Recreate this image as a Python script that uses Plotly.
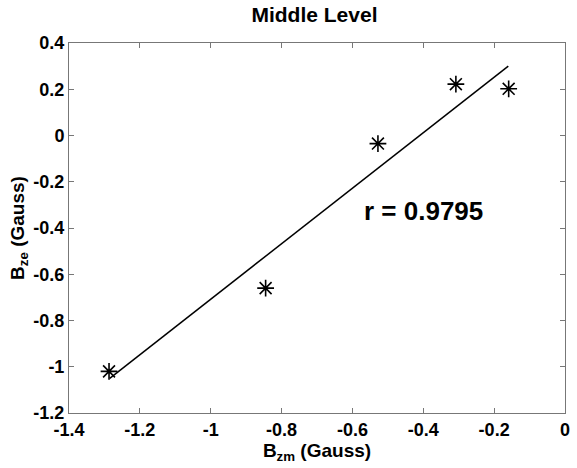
import plotly.graph_objects as go

# Data
bzm = [-1.287, -0.845, -0.528, -0.308, -0.159]
bze = [-1.02, -0.66, -0.035, 0.222, 0.202]

fit_x = [-1.285, -0.16]
fit_y = [-1.05, 0.30]

x_ticks = [-1.4, -1.2, -1.0, -0.8, -0.6, -0.4, -0.2, 0.0]
x_labels = ["-1.4", "-1.2", "-1", "-0.8", "-0.6", "-0.4", "-0.2", "0"]
y_ticks = [0.4, 0.2, 0.0, -0.2, -0.4, -0.6, -0.8, -1.0, -1.2]
y_labels = ["0.4", "0.2", "0", "-0.2", "-0.4", "-0.6", "-0.8", "-1", "-1.2"]

FONT = "Liberation Sans, Arial, sans-serif"

fig = go.Figure()
fig.add_trace(go.Scatter(
    x=fit_x, y=fit_y, mode="lines",
    line=dict(color="black", width=1.5),
    showlegend=False, hoverinfo="skip"))
fig.add_trace(go.Scatter(
    x=bzm, y=bze, mode="markers",
    marker=dict(symbol="asterisk-open", size=14, color="black",
                line=dict(color="black", width=1.6)),
    showlegend=False))

fig.add_annotation(
    x=-0.40, y=-0.325, xref="x", yref="y",
    text="r = 0.9795", showarrow=False,
    font=dict(family=FONT, size=26, color="black", weight="bold"))

axis_common = dict(
    showgrid=False, zeroline=False,
    showline=True, linecolor="#777777", linewidth=1,
    mirror="ticks", ticks="inside", ticklen=5, tickcolor="#777777",
    tickfont=dict(family=FONT, size=18, color="black", weight="bold"),
)

fig.update_layout(
    width=577, height=468,
    margin=dict(l=69, r=7, t=43, b=55),
    paper_bgcolor="white", plot_bgcolor="white",
    title=dict(text="Middle Level", x=0.545, xanchor="center",
               y=0.985, yanchor="top",
               font=dict(family=FONT, size=21, color="black", weight="bold")),
    xaxis=dict(range=[-1.4, 0], tickvals=x_ticks, ticktext=x_labels,
               title=dict(text="B<sub>zm</sub> (Gauss)", standoff=3,
                          font=dict(family=FONT, size=19, color="black", weight="bold")),
               **axis_common),
    yaxis=dict(range=[-1.2, 0.4], tickvals=y_ticks, ticktext=y_labels,
               title=dict(text="B<sub>ze</sub> (Gauss)", standoff=3,
                          font=dict(family=FONT, size=19, color="black", weight="bold")),
               **axis_common),
)

fig.write_html("out.html")
